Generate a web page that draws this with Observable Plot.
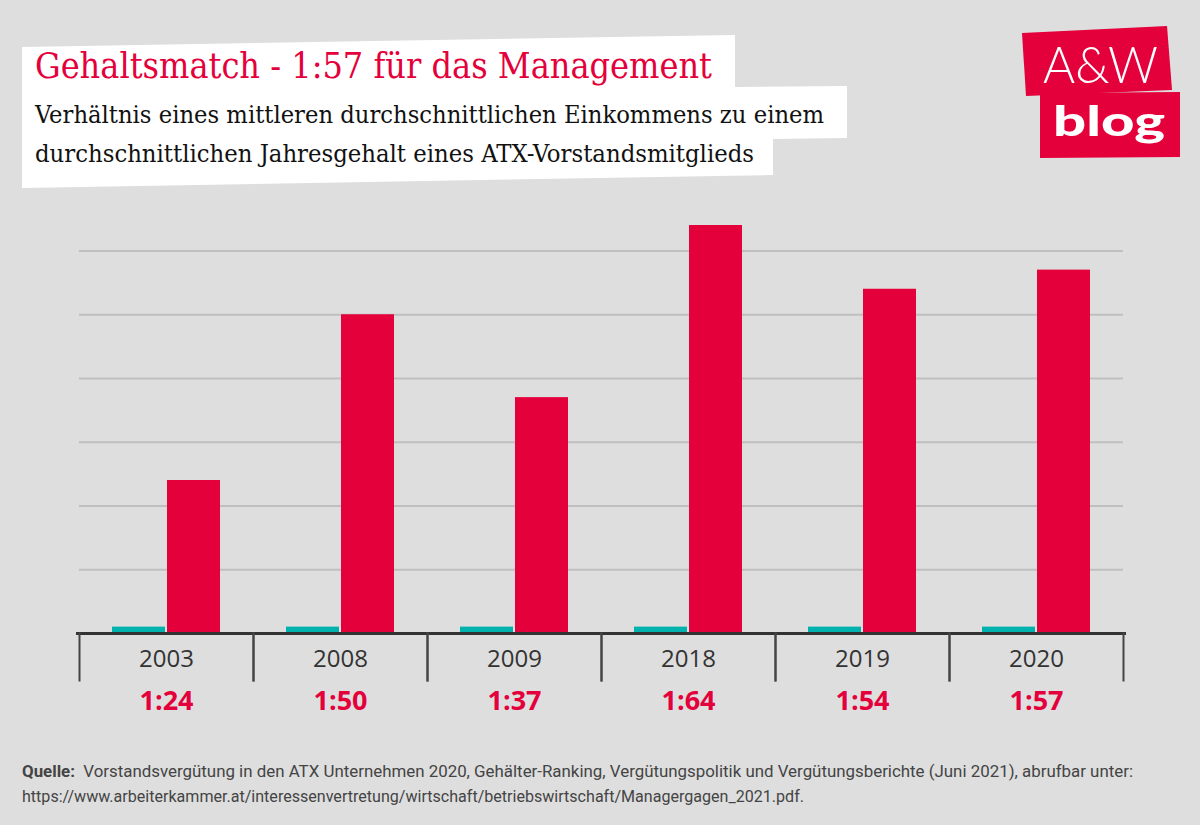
<!DOCTYPE html>
<html>
<head>
<meta charset="utf-8">
<script src="https://cdn.jsdelivr.net/npm/d3@7"></script>
<script src="https://cdn.jsdelivr.net/npm/@observablehq/plot@0.6"></script>
<style>
  html, body { margin: 0; padding: 0; background: #dedede; }
  #wrap { position: relative; width: 1200px; height: 825px; background: #dedede; overflow: hidden; }
  #chart { position: absolute; left: 0; top: 0; }
  #overlay { position: absolute; left: 0; top: 0; pointer-events: none; }
</style>
</head>
<body>
<div id="wrap">
  <div id="chart"></div>
  <svg id="overlay" width="1200" height="825" xmlns="http://www.w3.org/2000/svg">
    <!-- title box -->
    <polygon points="22,47 735,35 735,87 847,86 847,138 773,139 773,175 22,188" fill="#ffffff"/>
    <text id="title" x="35" y="78" font-family="'DejaVu Serif Condensed','DejaVu Serif',serif" font-size="35" fill="#e4003b" textLength="677" lengthAdjust="spacingAndGlyphs"></text>
    <text id="sub1" x="35" y="123" font-family="'DejaVu Serif Condensed','DejaVu Serif',serif" font-size="24" fill="#111" textLength="789" lengthAdjust="spacingAndGlyphs"></text>
    <text id="sub2" x="35" y="162" font-family="'DejaVu Serif Condensed','DejaVu Serif',serif" font-size="24" fill="#111" textLength="719" lengthAdjust="spacingAndGlyphs"></text>
    <!-- logo -->
    <polygon points="1022,33 1167,26 1172,90 1026,96" fill="#e4003b"/>
    <polygon points="1040,93 1180,92 1180,157 1040,158" fill="#e4003b"/>
    <text x="1043" y="83" font-family="Lato, sans-serif" font-weight="300" font-size="52" fill="#fff" textLength="115" lengthAdjust="spacingAndGlyphs">A&amp;W</text>
    <text x="1053" y="136" font-family="Lato, sans-serif" font-weight="900" font-size="42" fill="#fff" textLength="112" lengthAdjust="spacingAndGlyphs">blog</text>
    <!-- footer -->
    <text id="foot1" x="22" y="777" font-family="Roboto, sans-serif" font-size="16" fill="#444" textLength="1111" lengthAdjust="spacingAndGlyphs"></text>
    <text id="foot2" x="22" y="802" font-family="Roboto, sans-serif" font-size="16" fill="#444" textLength="782" lengthAdjust="spacingAndGlyphs"></text>
  </svg>
</div>
<script>
// ---- data ----
const years = ["2003", "2008", "2009", "2018", "2019", "2020"];
const seriesNames = ["Mittleres Einkommen", "ATX-Vorstand"];
const averageIncome = [1, 1, 1, 1, 1, 1];
const boardSalary = [24, 50, 37, 64, 54, 57];
const ratioLabels = ["1:24", "1:50", "1:37", "1:64", "1:54", "1:57"];
const gridValues = [10, 20, 30, 40, 50, 60];

const titleText = "Gehaltsmatch - 1:57 für das Management";
const subtitleLines = [
  "Verhältnis eines mittleren durchschnittlichen  Einkommens zu einem",
  "durchschnittlichen Jahresgehalt eines ATX-Vorstandsmitglieds"
];
const sourceLabel = "Quelle:";
const sourceLines = [
  "  Vorstandsvergütung in den ATX Unternehmen 2020, Gehälter-Ranking, Vergütungspolitik und Vergütungsberichte (Juni 2021), abrufbar unter:",
  "https://www.arbeiterkammer.at/interessenvertretung/wirtschaft/betriebswirtschaft/Managergagen_2021.pdf."
];

const RED = "#e4003b";
const TEAL = "#00b2ad";

// ---- tables ----
const rows = [];
years.forEach((yr, i) => {
  rows.push({year: yr, series: seriesNames[0], value: averageIncome[i]});
  rows.push({year: yr, series: seriesNames[1], value: boardSalary[i]});
});
const labelRows = years.map((yr, i) => ({year: yr, label: ratioLabels[i]}));

// ---- text ----
document.getElementById("title").textContent = titleText;
document.getElementById("sub1").textContent = subtitleLines[0];
document.getElementById("sub2").textContent = subtitleLines[1];
const f1 = document.getElementById("foot1");
const b = document.createElementNS("http://www.w3.org/2000/svg", "tspan");
b.setAttribute("font-weight", "bold");
b.textContent = sourceLabel;
f1.appendChild(b);
const t = document.createElementNS("http://www.w3.org/2000/svg", "tspan");
t.setAttribute("xml:space", "preserve");
t.style.whiteSpace = "pre";
t.textContent = sourceLines[0];
f1.appendChild(t);
document.getElementById("foot2").textContent = sourceLines[1];

// ---- chart ----
const chart = Plot.plot({
  width: 1200,
  height: 825,
  marginTop: 225,
  marginBottom: 192,
  marginLeft: 77,
  marginRight: 75,
  style: {background: "transparent", fontFamily: "'Open Sans', sans-serif", fontSize: "24px", color: "#333"},
  fx: {domain: years, padding: 0, label: null, tickSize: 0, tickPadding: 16, axis: "bottom"},
  x: {domain: seriesNames, paddingInner: 0.04, paddingOuter: 0.6, axis: null},
  y: {domain: [0, 64], axis: null},
  color: {domain: seriesNames, range: [TEAL, RED]},
  marks: [
    Plot.gridY(gridValues, {stroke: "#bfbfbf", strokeOpacity: 1, strokeWidth: 2}),
    Plot.barY(rows, {fx: "year", x: "series", y: "value", fill: "series"}),
    Plot.ruleY([0], {stroke: "#333", strokeWidth: 3, insetLeft: -3, insetRight: -3}),
    Plot.frame({anchor: "left", stroke: "#444", strokeWidth: 2, insetTop: 408, insetBottom: -47}),
    Plot.frame({anchor: "right", stroke: "#444", strokeWidth: 2, insetTop: 408, insetBottom: -47}),
    Plot.text(labelRows, {fx: "year", text: "label", frameAnchor: "bottom", dy: 76, fill: RED, fontSize: 27, fontWeight: "bold"})
  ]
});
document.getElementById("chart").appendChild(chart);
</script>
</body>
</html>
